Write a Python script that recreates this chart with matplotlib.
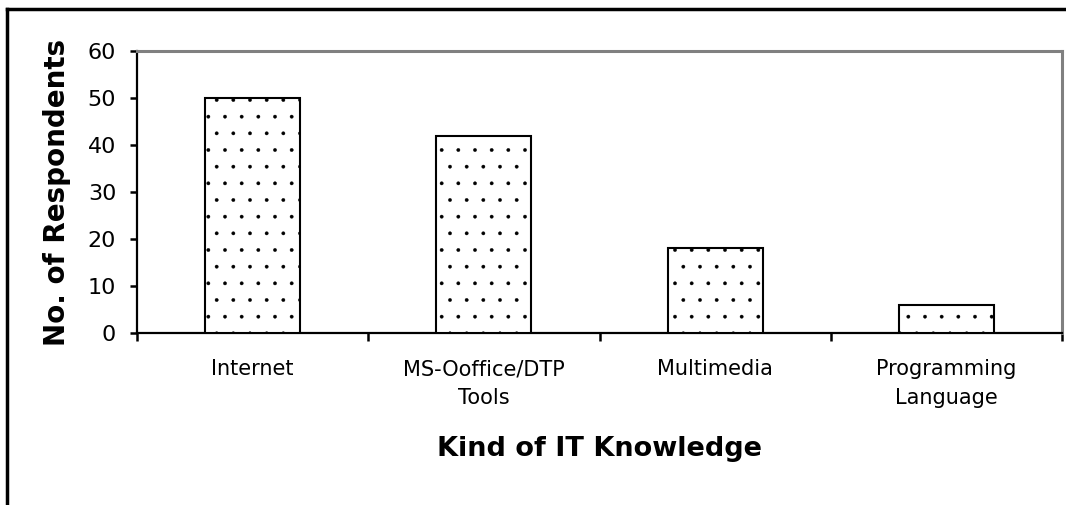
import matplotlib
matplotlib.use("Agg")
import matplotlib.pyplot as plt
from matplotlib.lines import Line2D
import numpy as np

categories = ["Internet", "MS-Ooffice/DTP\nTools", "Multimedia", "Programming\nLanguage"]
values = [50, 42, 18, 6]
yticks = [0, 10, 20, 30, 40, 50, 60]

plt.rcParams['hatch.linewidth'] = 0.25
plt.rcParams['hatch.color'] = 'black'

fig = plt.figure(figsize=(10.66, 5.05), dpi=100)
W, H = 1066, 505
x0, x1, ytop, ybot = 137, 1062, 51, 333
ax = fig.add_axes([x0 / W, 1 - ybot / H, (x1 - x0) / W, (ybot - ytop) / H])

x = np.arange(len(categories))
ax.bar(x, values, width=0.41, color='white', edgecolor='black', linewidth=1.5, hatch='.', zorder=3)

ax.set_xlim(-0.5, len(categories) - 0.5)
ax.set_ylim(0, 60)
ax.set_yticks(yticks)
ax.set_yticklabels([str(t) for t in yticks], fontsize=16)
ax.set_xticks(x)
ax.set_xticklabels(categories, fontsize=15, linespacing=1.55)
ax.tick_params(axis='x', length=0, pad=19)
ax.set_xticks(np.arange(-0.5, len(categories)), minor=True)
ax.tick_params(axis='x', which='minor', length=6, width=1.8, direction='out')
ax.tick_params(axis='y', length=5, width=1.8, direction='out', pad=10)

for s in ['left', 'bottom']:
    ax.spines[s].set_linewidth(1.6)
    ax.spines[s].set_color('black')
for s in ['top', 'right']:
    ax.spines[s].set_linewidth(2.2)
    ax.spines[s].set_color('#808080')

ax.set_ylabel("No. of Respondents", fontsize=20, fontweight='bold', labelpad=12)
ax.set_xlabel("Kind of IT Knowledge", fontsize=19.5, fontweight='bold', labelpad=20)

# outer frame
fig.add_artist(Line2D([7 / W, 7 / W], [1 - 9 / H, 0], color='black', linewidth=2.5, transform=fig.transFigure))
fig.add_artist(Line2D([7 / W, 1], [1 - 9 / H, 1 - 9 / H], color='black', linewidth=2.5, transform=fig.transFigure))

fig.savefig("out.png", dpi=100)
